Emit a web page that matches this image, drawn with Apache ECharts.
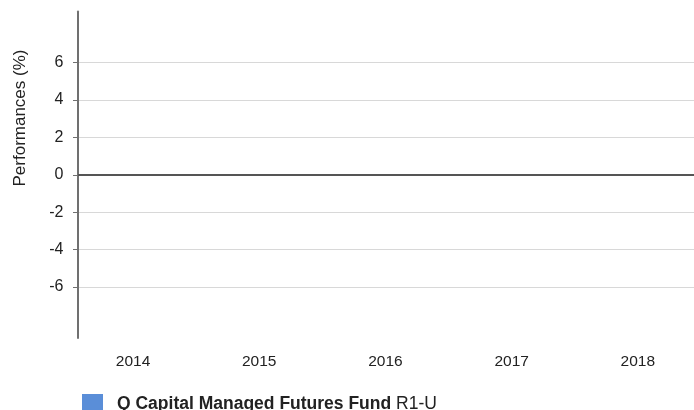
<!DOCTYPE html>
<html>
<head>
<meta charset="utf-8">
<script src="https://cdn.jsdelivr.net/npm/echarts@6/dist/echarts.min.js"></script>
<style>
  html, body { margin: 0; padding: 0; background: #fff; }
  #chart { width: 694px; height: 410px; }
</style>
</head>
<body>
<div id="chart"></div>
<script>
// chart data
const years = [2014, 2015, 2016, 2017, 2018];
// no performance published for these years, so no bars are drawn
const performances = [null, null, null, null, null];
const yTicks = [-6, -4, -2, 0, 2, 4, 6];
const seriesName = 'Q Capital Managed Futures Fund R1-U';

const fontFamily = '"Liberation Sans", Arial, sans-serif';

const chart = echarts.init(document.getElementById('chart'), null, { renderer: 'canvas' });

const option = {
  backgroundColor: '#fff',
  animation: false,
  textStyle: { fontFamily: fontFamily },
  grid: {
    left: 78,
    right: 0,
    top: 11.6,
    bottom: 72.1,
    containLabel: false,
  },
  xAxis: {
    type: 'value',
    min: 2013.564,
    max: 2018.445,
    axisLine: { show: false },
    axisTick: { show: false },
    splitLine: { show: false },
    axisLabel: {
      customValues: years,
      formatter: (v) => String(Math.round(v)),
      color: '#222',
      fontSize: 15.5,
      margin: 15.5,
    },
  },
  yAxis: {
    type: 'value',
    min: -8.72,
    max: 8.72,
    axisLine: {
      show: true,
      onZero: false,
      lineStyle: { color: '#707070', width: 2 },
    },
    axisTick: {
      show: true,
      customValues: yTicks,
      length: 5,
      lineStyle: { color: '#707070', width: 1 },
    },
    axisLabel: {
      customValues: yTicks,
      color: '#222',
      fontSize: 16,
      margin: 14.5,
    },
    splitLine: {
      show: true,
      lineStyle: { color: '#d8d8d8', width: 1 },
    },
  },
  graphic: [
    {
      type: 'text',
      x: 20.5,
      y: 118,
      rotation: Math.PI / 2,
      style: {
        text: 'Performances (%)',
        fill: '#222',
        font: '17px ' + fontFamily,
        align: 'center',
        verticalAlign: 'middle',
      },
    },
  ],
  legend: {
    left: 77,
    top: 389,
    icon: 'rect',
    itemWidth: 21,
    itemHeight: 21,
    selectedMode: false,
    formatter: () => '{b|Q Capital Managed Futures Fund} R1-U',
    textStyle: {
      color: '#222',
      fontSize: 17.5,
      padding: [0, 0, 0, 9],
      rich: {
        b: { fontWeight: 'bold', fontSize: 17.5, color: '#222' },
      },
    },
  },
  series: [
    {
      name: seriesName,
      type: 'bar',
      barWidth: 40,
      itemStyle: { color: '#5a8ed8' },
      data: years.map((y, i) => [y, performances[i]]),
      markLine: {
        silent: true,
        symbol: 'none',
        label: { show: false },
        lineStyle: { color: '#555', width: 2, type: 'solid' },
        data: [{ yAxis: 0 }],
      },
    },
  ],
};

chart.setOption(option);
</script>
</body>
</html>
